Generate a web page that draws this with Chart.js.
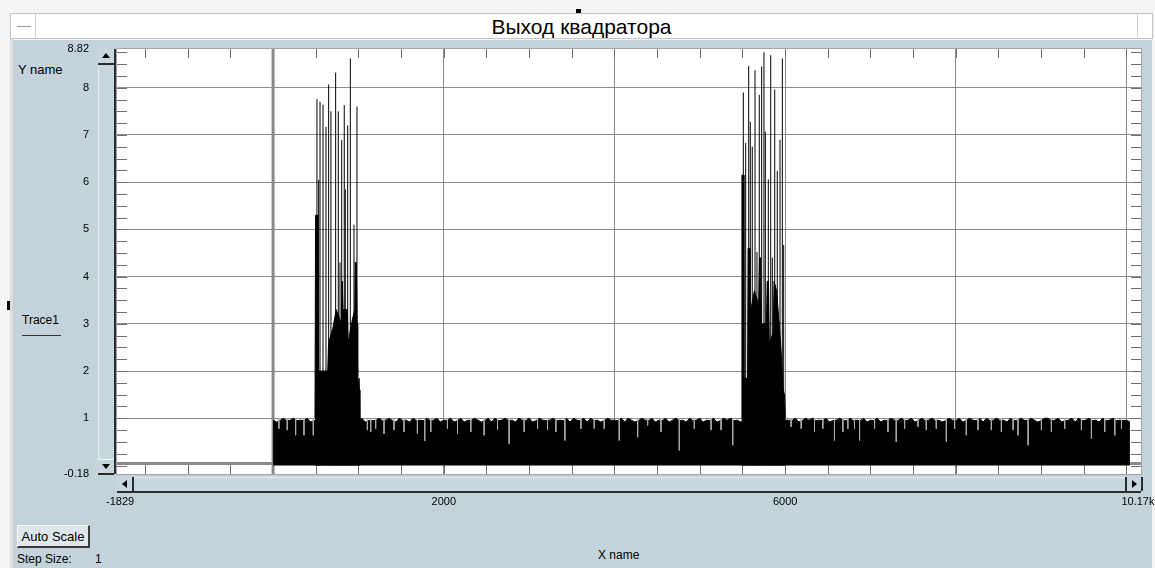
<!DOCTYPE html>
<html>
<head>
<meta charset="utf-8">
<script src="https://cdn.jsdelivr.net/npm/chart.js@4.4.0/dist/chart.umd.min.js"></script>
<style>
  html, body { margin: 0; padding: 0; width: 1155px; height: 568px; overflow: hidden; background: #f4f4f4; font-family: "Liberation Sans", Arial, sans-serif; }
  .abs { position: absolute; }
  #titlebar { left: 10px; top: 13px; width: 1141px; height: 24px; background: #fff; border: 1px solid #c4c4c4; }
  #titleLeft { left: 0; top: 0; width: 24px; height: 24px; border-right: 1px solid #d0d0d0; }
  #titleLeft div { left: 6px; top: 12px; width: 14px; height: 1px; background: #9a9a9a; }
  #titleRight { right: 0; top: 0; width: 14px; height: 24px; border-left: 1px solid #d0d0d0; }
  #title { left: 0; top: 0; width: 1141px; height: 24px; line-height: 26px; text-align: center; font-size: 21px; color: #000; }
  #panel { left: 13px; top: 40px; width: 1139px; height: 528px; background: #c4d3db; }
  #panelEdge { left: 10px; top: 39px; width: 3px; height: 529px; background: #dcdcdc; }
  #plotBg { left: 117px; top: 49px; width: 1024px; height: 425px; background: #fff; outline: 1px solid #a4a4a4; }
  .sb { background: #c8d6dd; }
  #ysb { left: 98px; top: 49px; width: 15px; height: 425px; border-left: 1px solid #e6edf0; border-right: 2px solid #2c2c2c; }
  #ysbUp { left: 98px; top: 49px; width: 16px; height: 14px; border-bottom: 2px solid #2c2c2c; }
  #ysbDown { left: 98px; top: 459px; width: 16px; height: 13px; border-top: 1px solid #f0f4f6; border-bottom: 2px solid #2c2c2c; }
  #xsb { left: 117px; top: 477px; width: 1024px; height: 13px; border-top: 1px solid #e6edf0; border-bottom: 2px solid #2c2c2c; }
  #xsbLeft { left: 117px; top: 477px; width: 15px; height: 14px; border-right: 2px solid #2c2c2c; }
  #xsbRight { left: 1125px; top: 477px; width: 14px; height: 14px; border-left: 2px solid #2c2c2c; border-right: 2px solid #2c2c2c; }
  .tri { position: absolute; width: 0; height: 0; }
  .lbl { position: absolute; color: #000; white-space: nowrap; }
  #btn { left: 17px; top: 525px; width: 70px; height: 20px; background: #dde6ea; border-top: 1px solid #fff; border-left: 1px solid #fff; border-right: 2px solid #3a3a3a; border-bottom: 2px solid #3a3a3a; font-size: 13px; line-height: 21px; text-align: center; }
  #chart { position: absolute; left: 0; top: 0; }
</style>
</head>
<body>
<div id="titlebar" class="abs">
  <div id="titleLeft" class="abs"><div class="abs"></div></div>
  <div id="title" class="abs">Выход квадратора</div>
  <div id="titleRight" class="abs"></div>
</div>
<div class="abs" style="left:576px;top:9px;width:5px;height:4px;background:#000"></div>
<div id="panelEdge" class="abs"></div>
<div id="panel" class="abs"></div>
<div class="abs" style="left:7px;top:301px;width:3px;height:9px;background:#000"></div>

<div class="lbl" style="left:18px;top:62px;font-size:13px">Y name</div>
<div class="lbl" style="left:22px;top:313px;font-size:12px">Trace1</div>
<div class="abs" style="left:22px;top:335px;width:39px;height:1px;background:#333"></div>

<div id="plotBg" class="abs"></div>

<div id="ysb" class="abs sb"></div>
<div id="ysbUp" class="abs sb"><div class="tri" style="left:4px;top:4px;border-left:4px solid transparent;border-right:4px solid transparent;border-bottom:5px solid #000"></div></div>
<div id="ysbDown" class="abs sb"><div class="tri" style="left:4px;top:4px;border-left:4px solid transparent;border-right:4px solid transparent;border-top:5px solid #000"></div></div>
<div id="xsb" class="abs sb"></div>
<div id="xsbLeft" class="abs sb"><div class="tri" style="left:5px;top:3px;border-top:4px solid transparent;border-bottom:4px solid transparent;border-right:5px solid #000"></div></div>
<div id="xsbRight" class="abs sb"><div class="tri" style="left:5px;top:3px;border-top:4px solid transparent;border-bottom:4px solid transparent;border-left:5px solid #000"></div></div>

<div id="btn" class="abs">Auto Scale</div>
<div class="lbl" style="left:17px;top:552px;font-size:12px">Step Size:</div>
<div class="lbl" style="left:95px;top:552px;font-size:12px">1</div>
<div class="lbl" style="left:598px;top:548px;font-size:12px">X name</div>

<canvas id="chart" width="1155" height="568"></canvas>

<script>
// axis ranges and labelled ticks
const xMin = -1829;
const xMax = 10170;
const yMin = -0.18;
const yMax = 8.82;
const xTickValues = [-1829, 0, 2000, 4000, 6000, 8000, 10000, 10170];
const xTickLabels = ['  -1829', '', '2000', '', '6000', '', '', '10.17k  '];
const xGridValues = [2000, 4000, 6000, 8000, 10000];
const yTickValues = [-0.18, 1, 2, 3, 4, 5, 6, 7, 8, 8.82];
const yTickLabels = ['-0.18', '1', '2', '3', '4', '5', '6', '7', '8', '8.82'];
const xMinorStep = 500;
const yMinorStep = 0.25;

// cursor lines (x = 0, y ~ 0)
const cursorX = 0;
const cursorY = 0.04;

// noise envelope: top of each 40-sample block
const noiseStep = 40;
const noiseA = [0.96, 0.92, 0.95, 1.0, 0.95, 0.96, 1.0, 0.95, 0.96, 0.95,
  1.0, 0.92, 0.95, 0.96, 0.92, 0.96, 0.92, 0.96, 0.92, 0.96,
  0.92, 0.96, 0.92, 0.96, 0.92, 0.96, 1.0, 0.92, 0.95, 0.95,
  0.95, 1.0, 0.95, 0.96, 1.0, 0.95, 0.92, 1.0, 0.95, 0.96,
  0.92, 1.0, 0.95, 0.96, 0.95, 1.0, 0.95, 0.96, 1.0, 0.92,
  0.96];
const noiseB = [0.95, 1.0, 0.92, 0.95, 1.0, 0.92, 0.96, 0.95, 1.0, 0.96,
  0.92, 0.95, 1.0, 0.92, 1.0, 0.95, 0.96, 1.0, 0.95, 0.96,
  0.92, 1.0, 0.96, 0.95, 1.0, 0.92, 0.95, 1.0, 0.96, 0.95,
  0.96, 1.0, 0.95, 0.96, 0.95, 1.0, 0.92, 1.0, 0.96, 0.95,
  1.0, 0.92, 1.0, 0.95, 0.96, 0.92, 0.95, 1.0, 0.96, 0.96];
const noiseC = [0.95, 1.0, 0.92, 1.0, 0.96, 0.92, 0.95, 1.0, 0.96, 0.95,
  1.0, 0.92, 0.96, 0.95, 1.0, 0.92, 0.96, 1.0, 0.95, 0.96,
  0.92, 1.0, 0.95, 0.96, 1.0, 0.92, 0.96, 0.95, 1.0, 0.92,
  0.95, 1.0, 0.96, 1.0, 0.95, 0.96, 0.92, 0.96, 0.92, 0.96,
  0.92, 0.96, 0.92, 0.96, 0.92, 0.96, 0.92, 0.96, 0.92, 0.96];
const noiseD = [0.96, 0.95, 1.0, 0.92, 0.95, 1.0, 0.96, 1.0, 0.95, 0.96,
  0.95, 1.0, 0.92, 0.95, 0.96, 1.0, 0.95, 0.95, 1.0, 0.95,
  0.96, 0.95, 1.0, 0.92, 0.96, 0.95, 1.0, 0.92, 0.96, 0.95,
  1.0, 0.96, 0.95, 1.0, 0.95, 0.96, 1.0, 0.92, 0.95, 1.0,
  0.95, 0.96, 1.0, 0.95, 0.96, 0.92, 0.95, 1.0, 0.96, 0.95];
const noiseE = [1.0, 0.92, 0.95, 1.0, 0.96, 0.95, 1.0, 0.92, 1.0, 0.95,
  0.96, 1.0, 0.95, 0.96, 0.92, 1.0, 0.95, 0.95, 1.0, 0.96,
  0.95, 1.0, 0.96, 0.92, 0.95, 1.0, 1.0, 0.95, 0.96, 1.0,
  0.92, 0.95, 0.96, 1.0, 0.92, 1.0, 0.95, 0.96, 1.0, 0.95,
  0.96, 0.92, 1.0, 0.95, 0.96, 1.0, 0.95, 0.96, 0.95, 0.96,
  0.92];

// single low samples inside the noise (seen as thin grey notches)
const noiseDipX = [68, 166, 264, 362, 471, 1105, 1144, 1202, 1300, 1417, 1534, 1691, 1777, 1848, 2043, 2161, 2317, 2473, 2630, 2766,
  2942, 3099, 3216, 3314, 3419, 3607, 3763, 3880, 4056, 4272, 4389, 4545, 4760, 4936, 5132, 5249, 5386, 6070, 6188, 6344,
  6442, 6578, 6677, 6735, 6813, 6872, 7048, 7205, 7302, 7400, 7557, 7654, 7771, 7889, 7986, 8123, 8260, 8416, 8534, 8671,
  8729, 8847, 9003, 9120, 9276, 9472, 9589, 9745, 9863, 9941];
const noiseDipY = [0.78, 0.75, 0.64, 0.64, 0.64, 0.75, 0.71, 0.78, 0.67, 0.75, 0.71, 0.67, 0.52, 0.71, 0.78, 0.67, 0.71, 0.64, 0.75, 0.46,
  0.71, 0.78, 0.75, 0.71, 0.53, 0.78, 0.78, 0.78, 0.53, 0.6, 0.85, 0.71, 0.32, 0.78, 0.75, 0.75, 0.43, 0.82, 0.78, 0.71,
  0.78, 0.53, 0.71, 0.78, 0.78, 0.53, 0.78, 0.71, 0.5, 0.78, 0.82, 0.75, 0.78, 0.5, 0.78, 0.64, 0.75, 0.75, 0.71, 0.75,
  0.64, 0.43, 0.75, 0.71, 0.78, 0.75, 0.57, 0.71, 0.64, 0.78];

// first burst: dense body and single spikes
const burst1BodyX = [491, 498, 520, 526, 640, 650, 700, 740, 800, 810, 820, 870, 880, 930, 958, 962, 975, 985, 992, 1012, 1017];
const burst1BodyY = [1.0, 5.3, 5.3, 2.0, 2.0, 2.6, 2.9, 3.3, 3.0, 3.9, 3.3, 3.3, 2.6, 3.1, 3.3, 4.3, 4.3, 3.0, 1.9, 1.6, 1.0];
const burst1SpikeX = [514, 534, 550, 585, 620, 651, 678, 733, 764, 784, 804, 834, 846, 874, 905, 948, 983, 1010];
const burst1SpikeY = [7.76, 6.05, 7.7, 7.64, 7.17, 8.07, 7.5, 8.32, 7.5, 4.3, 6.89, 7.63, 5.85, 7.2, 8.62, 5.1, 7.6, 1.85];

// second burst
const burst2BodyX = [5488, 5494, 5512, 5518, 5560, 5566, 5580, 5588, 5640, 5690, 5700, 5712, 5720, 5780, 5790, 5805, 5815, 5860, 5870, 5900, 5930, 5950, 5978, 5993, 6003];
const burst2BodyY = [1.0, 6.15, 6.15, 1.85, 1.85, 4.6, 4.6, 3.2, 3.7, 3.4, 4.4, 4.4, 3.0, 3.0, 3.9, 3.9, 2.6, 2.8, 3.9, 3.7, 3.0, 2.5, 1.6, 1.5, 1.0];
const burst2SpikeX = [5510, 5538, 5573, 5592, 5615, 5647, 5670, 5697, 5725, 5752, 5768, 5803, 5831, 5850, 5878, 5908, 5940, 5967, 5983];
const burst2SpikeY = [7.9, 6.83, 8.46, 7.28, 6.75, 8.37, 4.52, 7.85, 8.45, 8.75, 7.07, 6.06, 8.69, 4.4, 7.96, 6.24, 6.9, 8.62, 4.67];

const noise = [...noiseA, ...noiseB, ...noiseC, ...noiseD, ...noiseE];

function toPoints(xs, ys) {
    return xs.map((x, i) => ({ x: x, y: ys[i] }));
}

// vertical segments from y0 to each value, broken by a null point
function segmentPoints(xs, ys, y0) {
    const pts = [];
    xs.forEach((x, i) => {
        pts.push({ x: x, y: y0 }, { x: x, y: ys[i] }, { x: x, y: null });
    });
    return pts;
}

const black = '#000000';
const gridGray = '#8d8d8d';

function lineSet(data, order, extra) {
    return Object.assign({
        data: data,
        borderColor: black,
        backgroundColor: black,
        borderWidth: 1,
        pointRadius: 0,
        tension: 0,
        fill: false,
        spanGaps: false,
        order: order
    }, extra || {});
}

// minor ticks along all four edges of the plot
const minorTicks = {
    id: 'minorTicks',
    beforeDatasetsDraw(chart) {
        const { ctx, chartArea: a, scales: { x, y } } = chart;
        ctx.save();
        ctx.strokeStyle = '#6f6f6f';
        ctx.lineWidth = 1;
        ctx.beginPath();
        for (let v = Math.ceil(xMin / xMinorStep) * xMinorStep; v < xMax; v += xMinorStep) {
            const px = Math.round(x.getPixelForValue(v)) + 0.5;
            ctx.moveTo(px, a.top);
            ctx.lineTo(px, a.top + 9);
            ctx.moveTo(px, a.bottom);
            ctx.lineTo(px, a.bottom - 9);
        }
        for (let v = Math.ceil(yMin / yMinorStep) * yMinorStep; v < yMax; v += yMinorStep) {
            const py = Math.round(y.getPixelForValue(v)) + 0.5;
            ctx.moveTo(a.left, py);
            ctx.lineTo(a.left + 10, py);
            ctx.moveTo(a.right, py);
            ctx.lineTo(a.right - 10, py);
        }
        ctx.stroke();
        ctx.restore();
    }
};

const tickFont = { family: '"Liberation Sans", Arial, sans-serif', size: 11 };

new Chart(document.getElementById('chart'), {
    type: 'line',
    data: {
        datasets: [
            lineSet([{ x: cursorX, y: yMin }, { x: cursorX, y: yMax }], 20, { borderColor: '#8a8a8a', borderWidth: 3 }),
            lineSet([{ x: xMin, y: cursorY }, { x: xMax, y: cursorY }], 19, { borderColor: '#8a8a8a', borderWidth: 3 }),
            lineSet(noise.map((v, i) => ({ x: i * noiseStep, y: v })), 10, { fill: 'origin' }),
            lineSet(segmentPoints(noiseDipX, noiseDipY, 1.0), 8, { borderColor: '#a9a9a9' }),
            lineSet(toPoints(burst1BodyX, burst1BodyY), 5, { fill: 'origin' }),
            lineSet(toPoints(burst2BodyX, burst2BodyY), 5, { fill: 'origin' }),
            lineSet(segmentPoints(burst1SpikeX, burst1SpikeY, 0), 1),
            lineSet(segmentPoints(burst2SpikeX, burst2SpikeY, 0), 1)
        ]
    },
    options: {
        responsive: false,
        animation: false,
        devicePixelRatio: 1,
        layout: { padding: { left: 0, top: 49, right: 14, bottom: 0 } },
        plugins: {
            legend: { display: false },
            tooltip: { enabled: false }
        },
        scales: {
            x: {
                type: 'linear',
                min: xMin,
                max: xMax,
                afterBuildTicks: s => { s.ticks = xTickValues.map(v => ({ value: v })); },
                afterFit: s => { s.height = 94; s.paddingLeft = 0; s.paddingRight = 0; },
                border: { display: false },
                grid: {
                    drawTicks: false,
                    lineWidth: 1,
                    color: c => (c.tick && xGridValues.includes(c.tick.value)) ? gridGray : 'rgba(0,0,0,0)'
                },
                ticks: {
                    autoSkip: false,
                    maxRotation: 0,
                    padding: 21,
                    color: black,
                    font: tickFont,
                    callback: (v, i) => xTickLabels[i]
                }
            },
            y: {
                type: 'linear',
                min: yMin,
                max: yMax,
                afterBuildTicks: s => { s.ticks = yTickValues.map(v => ({ value: v })); },
                afterFit: s => { s.width = 117; s.paddingTop = 0; s.paddingBottom = 0; },
                border: { display: false },
                grid: {
                    drawTicks: false,
                    lineWidth: 1,
                    color: c => (c.tick && Number.isInteger(c.tick.value)) ? gridGray : 'rgba(0,0,0,0)'
                },
                ticks: {
                    autoSkip: false,
                    padding: 28,
                    color: black,
                    font: tickFont,
                    callback: (v, i) => yTickLabels[i]
                }
            }
        }
    },
    plugins: [minorTicks]
});
</script>
</body>
</html>
